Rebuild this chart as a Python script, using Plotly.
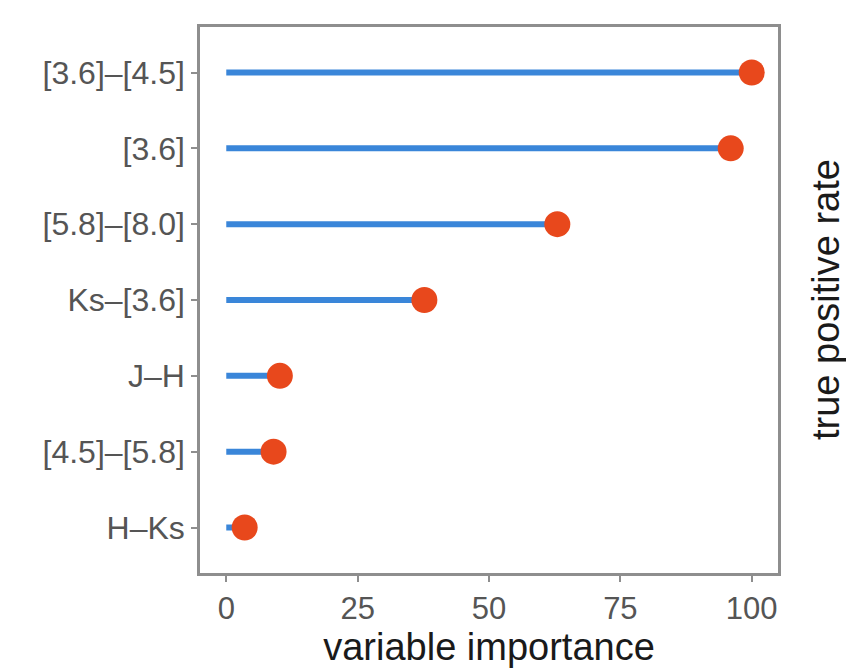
import plotly.graph_objects as go

# Variables ordered top to bottom, with their importance scores
features = ["[3.6]–[4.5]", "[3.6]", "[5.8]–[8.0]", "Ks–[3.6]", "J–H", "[4.5]–[5.8]", "H–Ks"]
importance = [100, 96, 63, 37.7, 10.2, 9, 3.5]
x_ticks = [0, 25, 50, 75, 100]

LINE_BLUE = "#3a86d9"
DOT_RED = "#e8481c"
FRAME = "#8e8e8e"
FONT = "Liberation Sans, Arial, Helvetica, sans-serif"

# Lollipop stems: one segment per variable, from 0 to its score
stem_x, stem_y = [], []
for f, v in zip(features, importance):
    stem_x += [0, v, None]
    stem_y += [f, f, None]

fig = go.Figure()
fig.add_trace(go.Scatter(
    x=stem_x, y=stem_y, mode="lines",
    line=dict(color=LINE_BLUE, width=6),
    hoverinfo="skip", showlegend=False,
))
fig.add_trace(go.Scatter(
    x=importance, y=features, mode="markers",
    marker=dict(color=DOT_RED, size=26, line=dict(width=0)),
    showlegend=False,
))

axis_common = dict(
    showgrid=False, zeroline=False,
    showline=True, linecolor=FRAME, linewidth=2.5, mirror=True,
    ticks="outside", ticklen=6, tickwidth=1.5, tickcolor=FRAME,
)

fig.update_xaxes(
    range=[-5, 105], tickvals=x_ticks, ticktext=[str(t) for t in x_ticks],
    tickfont=dict(family=FONT, size=31, color="#555555"),
    title=dict(text="variable importance", font=dict(family=FONT, size=38, color="#1a1a1a"), standoff=6),
    **axis_common,
)
fig.update_yaxes(
    type="category", categoryorder="array", categoryarray=features,
    range=[len(features) - 0.4, -0.6],
    tickfont=dict(family=FONT, size=32, color="#555555"),
    **axis_common,
)

# Secondary label on the right-hand side, reading bottom to top
fig.add_annotation(
    text="true positive rate", textangle=-90,
    xref="paper", yref="paper", x=(826 - 200) / 578, y=0.5,
    xanchor="center", yanchor="middle",
    showarrow=False,
    font=dict(family=FONT, size=38, color="#1a1a1a"),
)

fig.update_layout(
    width=846, height=671,
    margin=dict(l=200, r=68, t=27, b=96),
    paper_bgcolor="white", plot_bgcolor="white",
)

fig.write_html("out.html")
